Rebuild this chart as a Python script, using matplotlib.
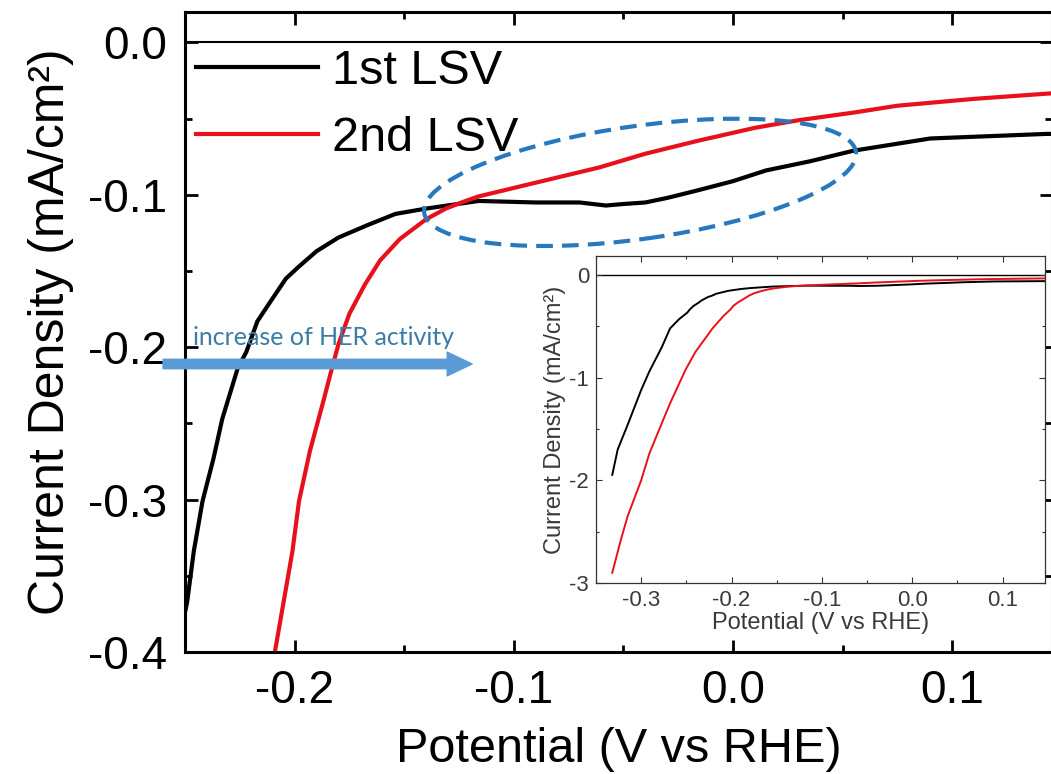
import matplotlib
matplotlib.use("Agg")
import matplotlib.pyplot as plt
import matplotlib.transforms as mtransforms
from matplotlib.patches import Ellipse
from matplotlib.ticker import MultipleLocator

plt.rcParams["font.family"] = ["Liberation Sans", "DejaVu Sans"]
plt.rcParams["axes.unicode_minus"] = False

# 1st LSV (black) and 2nd LSV (red), potential in V vs RHE, current in mA/cm2
pot_1st = [-0.332, -0.326, -0.315, -0.300, -0.291, -0.277, -0.268, -0.258, -0.249, -0.246,
           -0.242, -0.237, -0.233, -0.226, -0.222, -0.217, -0.211, -0.204, -0.198, -0.190,
           -0.180, -0.167, -0.154, -0.140, -0.116, -0.090, -0.070, -0.058, -0.050, -0.040,
           -0.030, -0.016, 0.000, 0.015, 0.035, 0.055, 0.090, 0.143, 0.150]
cur_1st = [-1.947, -1.70, -1.46, -1.12, -0.94, -0.70, -0.52, -0.43, -0.367, -0.334,
           -0.301, -0.273, -0.247, -0.214, -0.203, -0.183, -0.170, -0.155, -0.147, -0.137,
           -0.128, -0.120, -0.1125, -0.109, -0.104, -0.105, -0.105, -0.107, -0.106, -0.105,
           -0.102, -0.097, -0.091, -0.084, -0.078, -0.071, -0.063, -0.060, -0.060]

pot_2nd = [-0.332, -0.3225, -0.315, -0.300, -0.291, -0.277, -0.268, -0.251, -0.240, -0.221,
           -0.209, -0.205, -0.201, -0.198, -0.193, -0.187, -0.183, -0.180, -0.175, -0.168,
           -0.161, -0.152, -0.140, -0.131, -0.122, -0.116, -0.090, -0.061, -0.040, -0.016,
           0.010, 0.030, 0.055, 0.075, 0.110, 0.143, 0.150]
cur_2nd = [-2.90, -2.58, -2.35, -2.0, -1.74, -1.44, -1.25, -0.925, -0.75, -0.52,
           -0.40, -0.367, -0.334, -0.301, -0.268, -0.236, -0.214, -0.198, -0.178, -0.159,
           -0.143, -0.129, -0.116, -0.109, -0.104, -0.101, -0.092, -0.082, -0.073, -0.0645,
           -0.056, -0.051, -0.046, -0.0415, -0.037, -0.0336, -0.033]

labels = ["1st LSV", "2nd LSV"]
colors = ["black", "#e8101a"]

W, H = 1051, 774
fig = plt.figure(figsize=(W / 100, H / 100), dpi=100)

# main plot
ax = fig.add_axes([185 / W, (H - 652) / H, (1052 - 185) / W, (652 - 12) / H])
ax.axhline(0, color="black", lw=1.5, zorder=1)
ax.plot(pot_1st, cur_1st, color=colors[0], lw=3, label=labels[0])
ax.plot(pot_2nd, cur_2nd, color=colors[1], lw=3, label=labels[1])
ax.set_xlim(-0.25, 0.1455)
ax.set_ylim(-0.4, 0.02)
ax.xaxis.set_major_locator(MultipleLocator(0.1))
ax.xaxis.set_minor_locator(MultipleLocator(0.05))
ax.yaxis.set_major_locator(MultipleLocator(0.1))
ax.yaxis.set_minor_locator(MultipleLocator(0.05))
ax.tick_params(which="both", direction="in", top=True, right=True, width=2)
ax.tick_params(which="major", length=9, labelsize=33)
ax.tick_params(axis="y", pad=13)
ax.tick_params(axis="x", pad=12)
ax.tick_params(which="minor", length=5)
for s in ax.spines.values():
    s.set_linewidth(2.2)
ax.set_xlabel("Potential (V vs RHE)", fontsize=35, labelpad=10)
ax.set_ylabel("Current Density (mA/cm²)", fontsize=36, labelpad=10)
ax.legend(loc="upper left", bbox_to_anchor=(0.013, 0.942), frameon=False, fontsize=35,
          handlelength=2.5, handletextpad=0.3, labelspacing=0.46, borderpad=0,
          borderaxespad=0)

# dashed ellipse around the crossing region
trans = fig.dpi_scale_trans + mtransforms.ScaledTranslation(-0.0424, -0.0918, ax.transData)
ax.add_patch(Ellipse((0, 0), 4.36, 1.13, angle=8, transform=trans, fill=False,
                     edgecolor="#2878be", lw=3, linestyle=(0, (4, 2.2)), zorder=5,
                     clip_on=False))

# arrow + note
ax.annotate("", xy=(-0.119, -0.211), xytext=(-0.26, -0.211), annotation_clip=False,
            arrowprops=dict(arrowstyle="simple,head_width=0.95,head_length=1.0,tail_width=0.38",
                            mutation_scale=18, color="#5b9bd5", shrinkA=0, shrinkB=0),
            zorder=6)
ax.text(-0.2464, -0.1987, "increase of HER activity", fontsize=18, color="#3a7ca5",
        family=["Lato", "DejaVu Sans"], va="baseline", ha="left", zorder=6)

# inset: full range
ins = fig.add_axes([596 / W, (H - 583) / H, (1045 - 596) / W, (583 - 256) / H])
ins.set_facecolor("white")
ins.axhline(0, color="black", lw=1, zorder=1)
ins.plot(pot_1st, cur_1st, color=colors[0], lw=1.4)
ins.plot(pot_2nd, cur_2nd, color=colors[1], lw=1.4)
ins.set_xlim(-0.35, 0.147)
ins.set_ylim(-3, 0.185)
ins.xaxis.set_major_locator(MultipleLocator(0.1))
ins.xaxis.set_minor_locator(MultipleLocator(0.05))
ins.yaxis.set_major_locator(MultipleLocator(1))
ins.yaxis.set_minor_locator(MultipleLocator(0.5))
ins.tick_params(which="both", direction="in", top=True, right=True, width=0.8,
                color="#333333", labelcolor="#3a3a3a")
ins.tick_params(which="major", length=4, labelsize=16, pad=5)
ins.tick_params(which="minor", length=2.5)
for s in ins.spines.values():
    s.set_linewidth(0.9)
    s.set_color("#333333")
ins.set_xlabel("Potential (V vs RHE)", fontsize=17, color="#3a3a3a", labelpad=1)
ins.set_ylabel("Current Density (mA/cm²)", fontsize=17, color="#3a3a3a", labelpad=2)

fig.savefig("out.png", dpi=100)
